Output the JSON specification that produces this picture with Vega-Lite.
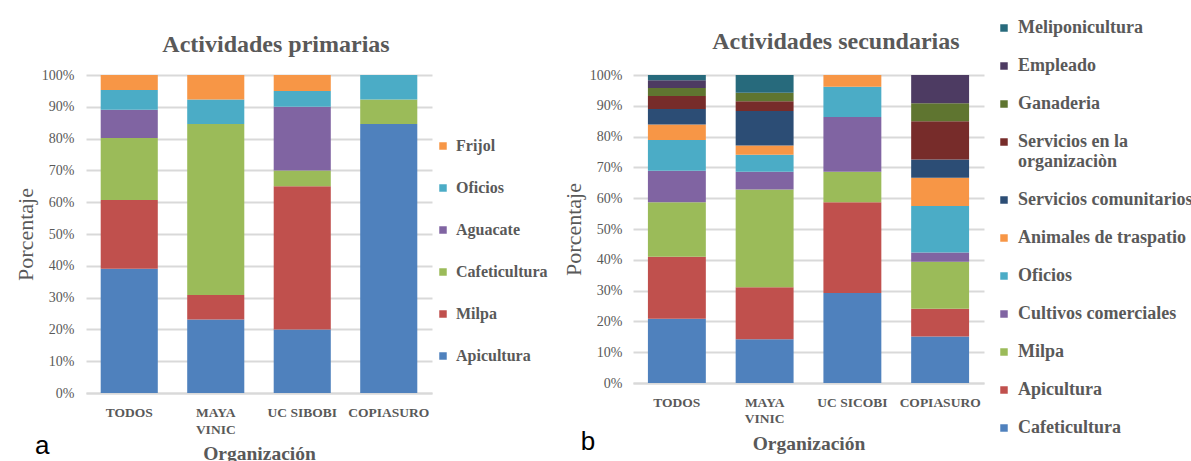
{
  "$schema": "https://vega.github.io/schema/vega-lite/v6.json",
  "padding": {"left": 14, "top": 19, "right": 0, "bottom": 0},
  "background": "white",
  "bounds": "flush",
  "spacing": 201,
  "resolve": {"scale": {"color": "independent", "x": "independent", "y": "independent"}, "legend": {"color": "independent"}},
  "config": {
    "font": "Liberation Serif",
    "view": {"stroke": null},
    "axis": {"labelColor": "#595959", "titleColor": "#595959", "ticks": false, "labelOverlap": false},
    "axisY": {"tickCount": 20},
    "legend": {"labelColor": "#595959", "labelFont": "Liberation Serif", "labelFontWeight": "bold", "symbolType": "square", "symbolSize": 56, "symbolStrokeWidth": 0, "padding": 0, "labelOffset": 5, "labelLimit": 300, "title": null}
  },
  "datasets": {
    "primarias": [
      {"org": "TODOS", "cat": "Apicultura", "v": 39.1},
      {"org": "TODOS", "cat": "Milpa", "v": 21.6},
      {"org": "TODOS", "cat": "Cafeticultura", "v": 19.5},
      {"org": "TODOS", "cat": "Aguacate", "v": 8.9},
      {"org": "TODOS", "cat": "Oficios", "v": 6.2},
      {"org": "TODOS", "cat": "Frijol", "v": 4.7},
      {"org": "MAYA VINIC", "cat": "Apicultura", "v": 23.1},
      {"org": "MAYA VINIC", "cat": "Milpa", "v": 7.7},
      {"org": "MAYA VINIC", "cat": "Cafeticultura", "v": 53.8},
      {"org": "MAYA VINIC", "cat": "Oficios", "v": 7.7},
      {"org": "MAYA VINIC", "cat": "Frijol", "v": 7.7},
      {"org": "UC SIBOBI", "cat": "Apicultura", "v": 20},
      {"org": "UC SIBOBI", "cat": "Milpa", "v": 45},
      {"org": "UC SIBOBI", "cat": "Cafeticultura", "v": 5},
      {"org": "UC SIBOBI", "cat": "Aguacate", "v": 20},
      {"org": "UC SIBOBI", "cat": "Oficios", "v": 5},
      {"org": "UC SIBOBI", "cat": "Frijol", "v": 5},
      {"org": "COPIASURO", "cat": "Apicultura", "v": 84.6},
      {"org": "COPIASURO", "cat": "Cafeticultura", "v": 7.7},
      {"org": "COPIASURO", "cat": "Oficios", "v": 7.7}
    ],
    "secundarias": [
      {"org": "TODOS", "cat": "Cafeticultura", "v": 20.9},
      {"org": "TODOS", "cat": "Apicultura", "v": 20.1},
      {"org": "TODOS", "cat": "Milpa", "v": 17.7},
      {"org": "TODOS", "cat": "Cultivos comerciales", "v": 10.2},
      {"org": "TODOS", "cat": "Oficios", "v": 10.0},
      {"org": "TODOS", "cat": "Animales de traspatio", "v": 5.0},
      {"org": "TODOS", "cat": "Servicios comunitarios", "v": 5.1},
      {"org": "TODOS", "cat": "Servicios en la organizaciòn", "v": 4.2},
      {"org": "TODOS", "cat": "Ganaderia", "v": 2.6},
      {"org": "TODOS", "cat": "Empleado", "v": 2.5},
      {"org": "TODOS", "cat": "Meliponicultura", "v": 1.7},
      {"org": "MAYA VINIC", "cat": "Cafeticultura", "v": 14.2},
      {"org": "MAYA VINIC", "cat": "Apicultura", "v": 16.9},
      {"org": "MAYA VINIC", "cat": "Milpa", "v": 31.7},
      {"org": "MAYA VINIC", "cat": "Cultivos comerciales", "v": 5.8},
      {"org": "MAYA VINIC", "cat": "Oficios", "v": 5.5},
      {"org": "MAYA VINIC", "cat": "Animales de traspatio", "v": 3.0},
      {"org": "MAYA VINIC", "cat": "Servicios comunitarios", "v": 11.2},
      {"org": "MAYA VINIC", "cat": "Servicios en la organizaciòn", "v": 3.2},
      {"org": "MAYA VINIC", "cat": "Ganaderia", "v": 2.7},
      {"org": "MAYA VINIC", "cat": "Meliponicultura", "v": 5.8},
      {"org": "UC SICOBI", "cat": "Cafeticultura", "v": 29.2},
      {"org": "UC SICOBI", "cat": "Apicultura", "v": 29.5},
      {"org": "UC SICOBI", "cat": "Milpa", "v": 9.9},
      {"org": "UC SICOBI", "cat": "Cultivos comerciales", "v": 17.8},
      {"org": "UC SICOBI", "cat": "Oficios", "v": 9.8},
      {"org": "UC SICOBI", "cat": "Animales de traspatio", "v": 3.8},
      {"org": "COPIASURO", "cat": "Cafeticultura", "v": 15.1},
      {"org": "COPIASURO", "cat": "Apicultura", "v": 9.0},
      {"org": "COPIASURO", "cat": "Milpa", "v": 15.3},
      {"org": "COPIASURO", "cat": "Cultivos comerciales", "v": 3.0},
      {"org": "COPIASURO", "cat": "Oficios", "v": 15.1},
      {"org": "COPIASURO", "cat": "Animales de traspatio", "v": 9.1},
      {"org": "COPIASURO", "cat": "Servicios comunitarios", "v": 6.0},
      {"org": "COPIASURO", "cat": "Servicios en la organizaciòn", "v": 12.4},
      {"org": "COPIASURO", "cat": "Ganaderia", "v": 5.8},
      {"org": "COPIASURO", "cat": "Empleado", "v": 9.2}
    ]
  },
  "hconcat": [
    {
      "width": 346,
      "height": 318,
      "title": {"text": "Actividades primarias", "fontSize": 24, "fontWeight": "bold", "color": "#595959", "anchor": "middle", "dx": 17, "offset": 11},
      "layer": [
        {
          "data": {"name": "primarias"},
          "transform": [{"calculate": "indexof(['Frijol','Oficios','Aguacate','Cafeticultura','Milpa','Apicultura'], datum.cat)", "as": "o"}],
          "mark": {"type": "bar"},
          "encoding": {
            "x": {"field": "org", "type": "nominal", "sort": null,
              "scale": {"paddingInner": 0.34, "paddingOuter": 0.17},
              "axis": {"title": "Organización", "labelAngle": 0, "labelFontWeight": "bold", "labelFontSize": 13.5, "labelPadding": 12, "labelLineHeight": 17,
                "labelExpr": "datum.label == 'MAYA VINIC' ? ['MAYA','VINIC'] : datum.label",
                "domainColor": "#D9D9D9", "domainWidth": 2, "titleFontSize": 19.5, "titleFontWeight": "bold", "titleBaseline": "middle", "titleY": 60}},
            "y": {"field": "v", "type": "quantitative", "stack": "zero",
              "scale": {"domain": [0, 100], "nice": false},
              "axis": {"title": "Porcentaje", "values": [0,10,20,30,40,50,60,70,80,90,100], "tickCount": 20, "labelExpr": "datum.value + '%'", "labelFontSize": 14, "labelPadding": 12,
                "domain": false, "grid": true, "gridColor": "#D9D9D9", "gridWidth": 2, "titleFontSize": 22, "titleFontWeight": "normal", "titleX": -61, "titleY": 159, "titleBaseline": "middle"}},
            "color": {"field": "cat", "type": "nominal",
              "scale": {"domain": ["Frijol","Oficios","Aguacate","Cafeticultura","Milpa","Apicultura"], "range": ["#F79646","#4BACC6","#8064A2","#9BBB59","#C0504D","#4F81BD"]},
              "legend": {"orient": "none", "legendX": 349, "legendY": 63, "labelFontSize": 16, "rowPadding": 26}},
            "order": {"field": "o", "sort": "descending"}
          }
        },
        {
          "data": {"values": [{"t": "a"}]},
          "mark": {"type": "text", "font": "Liberation Sans", "fontSize": 26, "color": "black", "dx": -87, "baseline": "middle"},
          "encoding": {
            "x": {"datum": "TODOS", "type": "nominal"},
            "y": {"datum": -16.7, "type": "quantitative",
              "axis": {"title": "Porcentaje", "values": [0,10,20,30,40,50,60,70,80,90,100], "tickCount": 20, "labelExpr": "datum.value + '%'", "labelFontSize": 14, "labelPadding": 12,
                "domain": false, "grid": true, "gridColor": "#D9D9D9", "gridWidth": 2, "titleFontSize": 22, "titleFontWeight": "normal", "titleX": -61, "titleY": 159, "titleBaseline": "middle"}},
            "text": {"field": "t"}
          }
        }
      ]
    },
    {
      "width": 351,
      "height": 308,
      "layer": [
        {
          "data": {"name": "secundarias"},
          "transform": [{"calculate": "indexof(['Meliponicultura','Empleado','Ganaderia','Servicios en la organizaciòn','Servicios comunitarios','Animales de traspatio','Oficios','Cultivos comerciales','Milpa','Apicultura','Cafeticultura'], datum.cat)", "as": "o"}],
          "mark": {"type": "bar"},
          "encoding": {
            "x": {"field": "org", "type": "nominal", "sort": null,
              "scale": {"paddingInner": 0.34, "paddingOuter": 0.17},
              "axis": {"title": "Organización", "labelAngle": 0, "labelFontWeight": "bold", "labelFontSize": 13.5, "labelPadding": 12, "labelLineHeight": 16,
                "labelExpr": "datum.label == 'MAYA VINIC' ? ['MAYA','VINIC'] : datum.label",
                "domainColor": "#D9D9D9", "domainWidth": 2, "titleFontSize": 19.5, "titleFontWeight": "bold", "titleBaseline": "middle", "titleY": 60}},
            "y": {"field": "v", "type": "quantitative", "stack": "zero",
              "scale": {"domain": [0, 100], "nice": false},
              "axis": {"title": "Porcentaje", "values": [0,10,20,30,40,50,60,70,80,90,100], "tickCount": 20, "labelExpr": "datum.value + '%'", "labelFontSize": 14, "labelPadding": 11,
                "domain": false, "grid": true, "gridColor": "#D9D9D9", "gridWidth": 2, "titleFontSize": 22, "titleFontWeight": "normal", "titleX": -60, "titleY": 154, "titleBaseline": "middle"}},
            "color": {"field": "cat", "type": "nominal",
              "scale": {"domain": ["Meliponicultura","Empleado","Ganaderia","Servicios en la organizaciòn","Servicios comunitarios","Animales de traspatio","Oficios","Cultivos comerciales","Milpa","Apicultura","Cafeticultura"],
                "range": ["#276A7C","#4D3B62","#5F7530","#772C2A","#2C4D75","#F79646","#4BACC6","#8064A2","#9BBB59","#C0504D","#4F81BD"]},
              "legend": {"orient": "none", "legendX": 362, "legendY": -56, "labelFontSize": 18, "rowPadding": 20,
                "labelExpr": "datum.label == 'Servicios en la organizaciòn' ? ['Servicios en la','organizaciòn'] : datum.label"}},
            "order": {"field": "o", "sort": "descending"}
          }
        },
        {
          "data": {"values": [{"t": "b", "title": "Actividades secundarias"}]},
          "layer": [
            {
              "mark": {"type": "text", "font": "Liberation Sans", "fontSize": 26, "color": "black", "dx": -89, "baseline": "middle"},
              "encoding": {
                "x": {"datum": "TODOS", "type": "nominal"},
                "y": {"datum": -19, "type": "quantitative",
                  "axis": {"title": "Porcentaje", "values": [0,10,20,30,40,50,60,70,80,90,100], "tickCount": 20, "labelExpr": "datum.value + '%'", "labelFontSize": 14, "labelPadding": 11,
                    "domain": false, "grid": true, "gridColor": "#D9D9D9", "gridWidth": 2, "titleFontSize": 22, "titleFontWeight": "normal", "titleX": -60, "titleY": 154, "titleBaseline": "middle"}},
                "text": {"field": "t"}
              }
            },
            {
              "mark": {"type": "text", "font": "Liberation Serif", "fontSize": 24, "fontWeight": "bold", "color": "#595959", "dx": -16.5, "baseline": "middle"},
              "encoding": {
                "x": {"datum": "UC SICOBI", "type": "nominal"},
                "y": {"datum": 110.7, "type": "quantitative",
                  "axis": {"title": "Porcentaje", "values": [0,10,20,30,40,50,60,70,80,90,100], "tickCount": 20, "labelExpr": "datum.value + '%'", "labelFontSize": 14, "labelPadding": 11,
                    "domain": false, "grid": true, "gridColor": "#D9D9D9", "gridWidth": 2, "titleFontSize": 22, "titleFontWeight": "normal", "titleX": -60, "titleY": 154, "titleBaseline": "middle"}},
                "text": {"field": "title"}
              }
            }
          ]
        }
      ]
    }
  ]
}
